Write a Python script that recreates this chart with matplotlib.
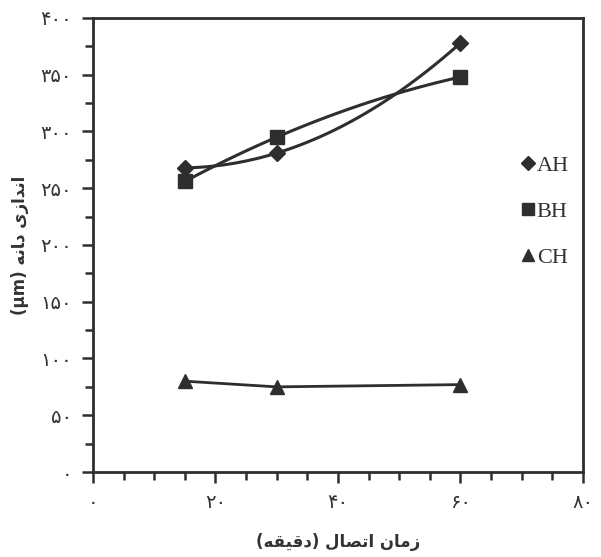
import numpy as np
import matplotlib.pyplot as plt
from matplotlib.ticker import MultipleLocator, FixedLocator

# داده‌ها
time_min = [15, 30, 60]
ah = [268, 281, 378]
bh = [256, 295, 348]
ch = [80, 75, 77]
x_ticks = [0, 20, 40, 60, 80]
y_ticks = [0, 50, 100, 150, 200, 250, 300, 350, 400]
series_names = ['AH', 'BH', 'CH']

fa_digits = str.maketrans('0123456789', '\u06f0\u06f1\u06f2\u06f3\u06f4\u06f5\u06f6\u06f7\u06f8\u06f9')


def fa(n):
    return str(n).translate(fa_digits)


# matplotlib متن راست به چپ را شکل نمی‌دهد، پس حروف به شکل نمایشی و ترتیب دیداری
x_label = ('(\ufeea\ufed8\ufef4\ufed7\ufea9) '
           '\ufedd\ufe8e\ufebc\ufe97\ufe8d '
           '\ufee5\ufe8e\ufee3\ufeaf')
y_label = ('(\u03bcm) '
           '\ufeea\ufee7\ufe8e\ufea9 '
           '\ufeef\ufeaf\ufe8d\ufeaa\ufee7\ufe8d')

col = '#2e2e2e'

fig = plt.figure(figsize=(6.01, 5.57), dpi=100)
ax = fig.add_axes([0.1547, 0.1526, 0.8153, 0.8151])


def smooth(x, y):
    c = np.polyfit(x, y, 2)
    xs = np.linspace(min(x), max(x), 100)
    return xs, np.polyval(c, xs)


xs, ys = smooth(time_min, ah)
ax.plot(xs, ys, color=col, lw=2.2)
xs, ys = smooth(time_min, bh)
ax.plot(xs, ys, color=col, lw=2.2)
ax.plot(time_min, ch, color=col, lw=2.0)

ax.plot(time_min, ah, ls='none', marker='D', ms=8.5, color=col, label=series_names[0])
ax.plot(time_min, bh, ls='none', marker='s', ms=10, color=col, label=series_names[1])
ax.plot(time_min, ch, ls='none', marker='^', ms=10, color=col, label=series_names[2])

ax.set_xlim(0, 80)
ax.set_ylim(0, 400)
ax.xaxis.set_major_locator(FixedLocator(x_ticks))
ax.xaxis.set_minor_locator(MultipleLocator(5))
ax.yaxis.set_major_locator(FixedLocator(y_ticks))
ax.yaxis.set_minor_locator(MultipleLocator(25))
ax.set_xticklabels([fa(v) for v in x_ticks])
ax.set_yticklabels([fa(v) for v in y_ticks])
ax.tick_params(which='both', direction='out', color=col, width=1.8)
ax.tick_params(which='major', length=8, labelsize=14, labelcolor='#333333', pad=7)
ax.tick_params(which='minor', length=6)
for s in ax.spines.values():
    s.set_linewidth(2)
    s.set_color(col)

ax.set_xlabel(x_label, fontsize=12, fontweight='bold', labelpad=15, color='#333333')
ax.set_ylabel(y_label, fontsize=12, fontweight='bold', labelpad=8, color='#333333')

leg = ax.legend(loc='center right', bbox_to_anchor=(1.012, 0.573), frameon=False,
                handlelength=0.6, handletextpad=0.1, labelspacing=1.15, markerscale=0.85,
                prop={'family': 'Liberation Serif', 'size': 16})
for t in leg.get_texts():
    t.set_color('#333333')

fig.savefig('out.png', dpi=100)
